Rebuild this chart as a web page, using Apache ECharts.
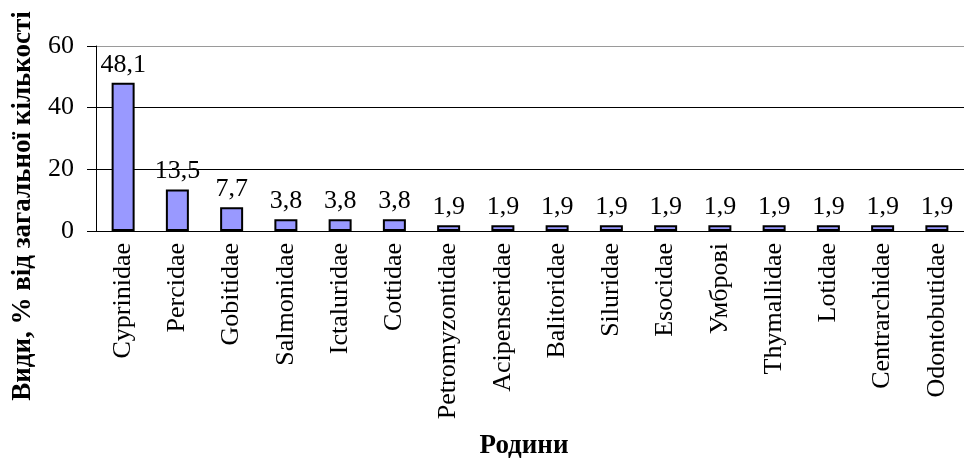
<!DOCTYPE html>
<html>
<head>
<meta charset="utf-8">
<script src="https://cdn.jsdelivr.net/npm/echarts@6/dist/echarts.min.js"></script>
<style>
	html, body { margin: 0; padding: 0; background: #fff; }
	#chart { width: 964px; height: 458px; }
</style>
</head>
<body>
<div id="chart"></div>
<script>
const families = [
	'Cyprinidae', 'Percidae', 'Gobitidae', 'Salmonidae', 'Ictaluridae', 'Cottidae',
	'Petromyzontidae', 'Acipenseridae', 'Balitoridae', 'Siluridae', 'Esocidae',
	'Умброві', 'Thymallidae', 'Lotidae', 'Centrarchidae', 'Odontobutidae'
];
const shares = [48.1, 13.5, 7.7, 3.8, 3.8, 3.8, 1.9, 1.9, 1.9, 1.9, 1.9, 1.9, 1.9, 1.9, 1.9, 1.9];
const yTicks = [0, 20, 40, 60];

const FONT = '"Liberation Serif", "Times New Roman", serif';

const chart = echarts.init(document.getElementById('chart'));

chart.setOption({
	animation: false,
	textStyle: { fontFamily: FONT, color: '#000' },
	title: {
		text: 'Родини',
		left: 519,
		top: 428,
		textAlign: 'center',
		textStyle: { fontFamily: FONT, fontSize: 27, fontWeight: 'bold', color: '#000' }
	},
	graphic: [{
		type: 'text',
		x: 10,
		y: 206,
		rotation: Math.PI / 2,
		style: {
			text: 'Види, % від загальної кількості',
			font: 'bold 27px ' + FONT,
			fill: '#000',
			align: 'center',
			verticalAlign: 'top'
		}
	}],
	grid: { left: 96, right: -9, top: 46, bottom: 227 },
	xAxis: {
		type: 'category',
		data: families,
		axisLine: { lineStyle: { color: '#000', width: 1 } },
		axisTick: { length: 6, lineStyle: { color: '#000' } },
		axisLabel: {
			rotate: 90,
			margin: 12,
			fontSize: 26,
			fontFamily: FONT,
			color: '#000',
			interval: 0
		}
	},
	yAxis: {
		type: 'value',
		min: yTicks[0],
		max: yTicks[yTicks.length - 1],
		interval: 20,
		axisLine: { show: true, lineStyle: { color: '#000', width: 1 } },
		axisTick: { show: true, length: 9, lineStyle: { color: '#000' } },
		axisLabel: { margin: 22, fontSize: 26, fontFamily: FONT, color: '#000' },
		splitLine: { lineStyle: { color: ['#000', '#000', '#000', '#9a9a9a'], width: 1 } }
	},
	series: [{
		type: 'bar',
		data: shares,
		barWidth: 23,
		itemStyle: { color: '#9999ff', borderColor: '#000', borderWidth: 2 },
		label: {
			show: true,
			position: 'top',
			distance: 5,
			fontSize: 26,
			fontFamily: FONT,
			color: '#000',
			formatter: p => String(p.value).replace('.', ',')
		}
	}]
});
</script>
</body>
</html>
